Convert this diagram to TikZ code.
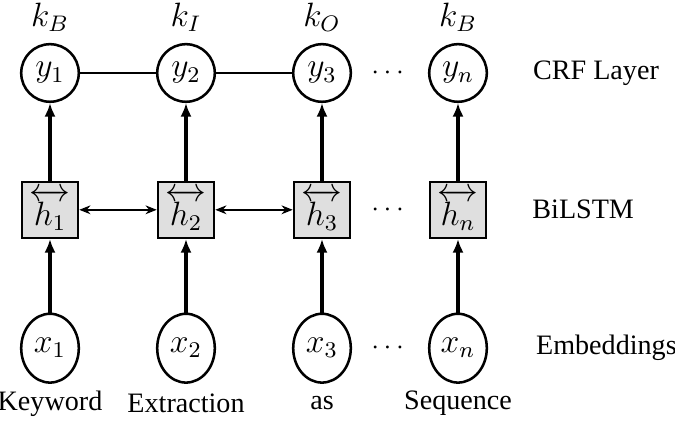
\documentclass[tikz,border=0pt]{standalone}
\usepackage{amsmath, amsfonts, amssymb}
\usepackage{fontspec}
\setmainfont{Liberation Serif}
\usepackage{tikz}
\usetikzlibrary{arrows.meta, shapes.geometric}

\begin{document}
\begin{tikzpicture}[
    ynode/.style={draw, circle, line width=0.9pt, minimum size=0.72cm, inner sep=0pt, font=\large},
    xnode/.style={draw, ellipse, line width=0.9pt, minimum width=0.72cm, minimum height=0.86cm, inner sep=0pt, font=\large},
    hnode/.style={draw, fill=gray!25, line width=0.9pt, minimum size=0.7cm, inner sep=0pt, font=\large},
    up/.style={line width=1.1pt, -{Latex[length=1.7mm, width=1.4mm]}},
    side/.style={line width=0.6pt, {Stealth[length=1.4mm, width=1.1mm]}-{Stealth[length=1.4mm, width=1.1mm]}}
  ]
  \useasboundingbox (0,0) rectangle (8.4375,5.2625);
  % CRF layer
  \node[ynode] (y1) at (0.625,4.35) {$y_1$};
  \node[ynode] (y2) at (2.325,4.35) {$y_2$};
  \node[ynode] (y3) at (4.025,4.35) {$y_3$};
  \node[ynode] (yn) at (5.725,4.35) {$y_n$};
  \node (ydots) at (4.875,4.35) {$\cdots$};
  \node (k1) at (0.625,5.05) {\large $k_B$};
  \node (k2) at (2.325,5.05) {\large $k_I$};
  \node (k3) at (4.025,5.05) {\large $k_O$};
  \node (kn) at (5.725,5.05) {\large $k_B$};
  \draw[line width=0.6pt] (y1) -- (y2);
  \draw[line width=0.6pt] (y2) -- (y3);
  % BiLSTM
  \node[hnode] (h1) at (0.625,2.64) {$\overleftrightarrow{h_1}$};
  \node[hnode] (h2) at (2.325,2.64) {$\overleftrightarrow{h_2}$};
  \node[hnode] (h3) at (4.025,2.64) {$\overleftrightarrow{h_3}$};
  \node[hnode] (hn) at (5.725,2.64) {$\overleftrightarrow{h_n}$};
  \node (hdots) at (4.875,2.64) {$\cdots$};
  \draw[side] (h1) -- (h2);
  \draw[side] (h2) -- (h3);
  % embeddings
  \node[xnode] (x1) at (0.625,0.91) {$x_1$};
  \node[xnode] (x2) at (2.325,0.91) {$x_2$};
  \node[xnode] (x3) at (4.025,0.91) {$x_3$};
  \node[xnode] (xn) at (5.725,0.91) {$x_n$};
  \node (xdots) at (4.875,0.91) {$\cdots$};
  \draw[up] (x1) -- (h1);
  \draw[up] (x2) -- (h2);
  \draw[up] (x3) -- (h3);
  \draw[up] (xn) -- (hn);
  \draw[up] (h1) -- (y1);
  \draw[up] (h2) -- (y2);
  \draw[up] (h3) -- (y3);
  \draw[up] (hn) -- (yn);
  % words
  \node (w1) at (0.625,0.22) {Keyword};
  \node (w2) at (2.325,0.22) {Extraction};
  \node (w3) at (4.025,0.22) {as};
  \node (wn) at (5.725,0.22) {Sequence};
  % layer names
  \node (crf) at (7.45,4.35) {CRF Layer};
  \node (lstm) at (7.29,2.64) {BiLSTM};
  \node (emb) at (7.58,0.91) {Embeddings};
\end{tikzpicture}
\end{document}
